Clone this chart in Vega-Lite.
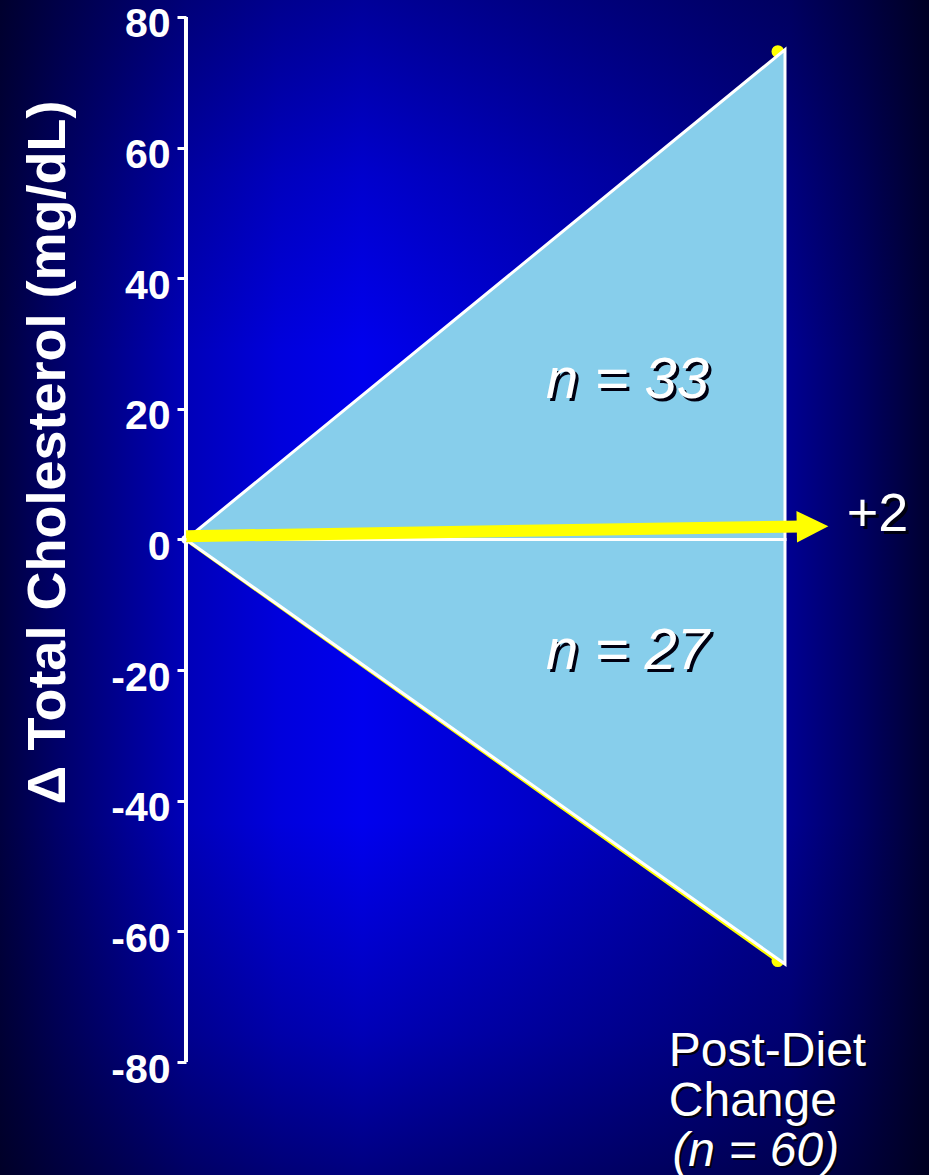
{
  "$schema": "https://vega.github.io/schema/vega-lite/v6.json",
  "width": 929,
  "height": 1175,
  "padding": 0,
  "autosize": {"type": "none"},
  "background": "#000030",
  "config": {
    "font": "Liberation Sans",
    "view": {
      "stroke": null,
      "fill": {
        "gradient": "linear",
        "x1": 0, "y1": 0, "x2": 1, "y2": 0,
        "stops": [
          {"offset": 0, "color": "#000040"},
          {"offset": 0.06, "color": "#000068"},
          {"offset": 0.13, "color": "#000090"},
          {"offset": 0.2, "color": "#0000b8"},
          {"offset": 0.3, "color": "#0000dc"},
          {"offset": 0.39, "color": "#0000ee"},
          {"offset": 0.5, "color": "#0000d8"},
          {"offset": 0.66, "color": "#0000b8"},
          {"offset": 0.85, "color": "#000090"},
          {"offset": 0.93, "color": "#000060"},
          {"offset": 1, "color": "#000030"}
        ]
      }
    }
  },
  "datasets": {
    "increase": [{"x": 0, "y": 0, "y2": 0}, {"x": 1, "y": 75, "y2": 0}],
    "decrease": [{"x": 0, "y": 0, "y2": 0}, {"x": 1, "y": -65, "y2": 0}],
    "lowTrace": [{"x": 0, "y": 0}, {"x": 0.988, "y": -64.5}],
    "extremes": [{"x": 0.988, "y": 74.7}, {"x": 0.988, "y": -64.5}],
    "origin": [{"x": 0, "y": 0}],
    "axisLine": [{"x": 0, "y": -80, "y2": 80}],
    "meanShaft": [{"x": 0, "y": 0.5, "x2": 1.03, "y2": 2}],
    "meanHead": [{"x": 1.046, "y": 2}],
    "meanLabel": [{"x": 1.103, "y": 3.7, "label": "+2"}],
    "groups": [
      {"x": 0.737, "y": 24.3, "label": "n = 33"},
      {"x": 0.737, "y": -17.3, "label": "n = 27"}
    ],
    "caption": [{"x": 0.806, "y": -80.55, "label": ["Post-Diet", "Change"]}],
    "captionN": [{"x": 0.812, "y": -95.9, "label": "(n = 60)"}]
  },
  "layer": [
    {
      "description": "vertical shading over the horizontal backdrop",
      "data": {"values": [{}]},
      "mark": {
        "type": "rect",
        "color": {
          "gradient": "linear",
          "x1": 0, "y1": 0, "x2": 0, "y2": 1,
          "stops": [
            {"offset": 0, "color": "rgba(0,0,16,0.38)"},
            {"offset": 0.15, "color": "rgba(0,0,16,0.15)"},
            {"offset": 0.3, "color": "rgba(0,0,16,0)"},
            {"offset": 0.7, "color": "rgba(0,0,16,0)"},
            {"offset": 0.88, "color": "rgba(0,0,16,0.25)"},
            {"offset": 1, "color": "rgba(0,0,16,0.5)"}
          ]
        }
      },
      "encoding": {}
    },
    {
      "encoding": {
        "x": {
          "field": "x",
          "type": "quantitative",
          "scale": {"domain": [-0.3105, 1.2404], "nice": false, "zero": false},
          "axis": null
        },
        "y": {
          "field": "y",
          "type": "quantitative",
          "scale": {"domain": [-97.3, 82.6], "nice": false, "zero": false},
          "axis": {
            "zindex": 1,
            "values": [-80, -60, -40, -20, 0, 20, 40, 60, 80],
            "labelExpr": "'' + datum.value",
            "offset": -186,
            "domain": false,
            "grid": false,
            "tickSize": 9,
            "tickWidth": 3,
            "tickColor": "white",
            "labelColor": "white",
            "labelFont": "Liberation Sans",
            "labelFontSize": 41,
            "labelFontWeight": "bold",
            "labelPadding": 7,
            "labelOffset": 8,
            "labelFlush": false,
            "labelOverlap": false,
            "title": "Δ Total Cholesterol (mg/dL)",
            "titleColor": "white",
            "titleFont": "Liberation Sans",
            "titleFontSize": 54,
            "titleFontWeight": "bold",
            "titleAngle": -90,
            "titleX": -138,
            "titleY": 452,
            "titleAlign": "center",
            "titleBaseline": "middle"
          }
        }
      },
      "layer": [
        {
          "data": {"name": "lowTrace"},
          "mark": {"type": "line", "color": "#ffff00", "strokeWidth": 4},
          "encoding": {}
        },
        {
          "data": {"name": "extremes"},
          "mark": {"type": "point", "filled": true, "shape": "circle", "size": 160, "color": "#ffff00", "opacity": 1}
        },
        {
          "data": {"name": "increase"},
          "mark": {"type": "area", "color": "#87ceeb", "stroke": "white", "strokeWidth": 3, "opacity": 1},
          "encoding": {"y2": {"field": "y2"}}
        },
        {
          "data": {"name": "decrease"},
          "mark": {"type": "area", "color": "#87ceeb", "stroke": "white", "strokeWidth": 3, "opacity": 1},
          "encoding": {"y2": {"field": "y2"}}
        },
        {
          "data": {"name": "axisLine"},
          "mark": {"type": "rule", "color": "white", "strokeWidth": 4},
          "encoding": {"y2": {"field": "y2"}}
        },
        {
          "data": {"name": "origin"},
          "mark": {"type": "point", "filled": true, "shape": "circle", "size": 90, "color": "white", "opacity": 1}
        },
        {
          "data": {"name": "meanShaft"},
          "mark": {"type": "rule", "color": "#ffff00", "strokeWidth": 12, "strokeCap": "butt"},
          "encoding": {"x2": {"field": "x2"}, "y2": {"field": "y2"}}
        },
        {
          "data": {"name": "meanHead"},
          "mark": {"type": "point", "filled": true, "shape": "M-1,-1L1,0L-1,1Z", "size": 1000, "color": "#ffff00", "opacity": 1, "angle": -1}
        },
        {
          "data": {"name": "meanLabel"},
          "mark": {"type": "text", "align": "left", "baseline": "middle", "fontSize": 54, "color": "#000010", "dx": 3, "dy": 3},
          "encoding": {"text": {"field": "label"}}
        },
        {
          "data": {"name": "meanLabel"},
          "mark": {"type": "text", "align": "left", "baseline": "middle", "fontSize": 54, "color": "white"},
          "encoding": {"text": {"field": "label"}}
        },
        {
          "data": {"name": "groups"},
          "mark": {"type": "text", "align": "center", "baseline": "middle", "fontSize": 58, "fontStyle": "italic", "color": "#000010", "dx": 3, "dy": 3},
          "encoding": {"text": {"field": "label"}}
        },
        {
          "data": {"name": "groups"},
          "mark": {"type": "text", "align": "center", "baseline": "middle", "fontSize": 58, "fontStyle": "italic", "color": "white"},
          "encoding": {"text": {"field": "label"}}
        },
        {
          "data": {"name": "caption"},
          "mark": {"type": "text", "align": "left", "baseline": "alphabetic", "fontSize": 48, "lineHeight": 50, "color": "#000010", "dx": 2, "dy": 2},
          "encoding": {"text": {"field": "label"}}
        },
        {
          "data": {"name": "caption"},
          "mark": {"type": "text", "align": "left", "baseline": "alphabetic", "fontSize": 48, "lineHeight": 50, "color": "white"},
          "encoding": {"text": {"field": "label"}}
        },
        {
          "data": {"name": "captionN"},
          "mark": {"type": "text", "align": "left", "baseline": "alphabetic", "fontSize": 48, "fontStyle": "italic", "color": "#000010", "dx": 2, "dy": 2},
          "encoding": {"text": {"field": "label"}}
        },
        {
          "data": {"name": "captionN"},
          "mark": {"type": "text", "align": "left", "baseline": "alphabetic", "fontSize": 48, "fontStyle": "italic", "color": "white"},
          "encoding": {"text": {"field": "label"}}
        }
      ]
    }
  ]
}
